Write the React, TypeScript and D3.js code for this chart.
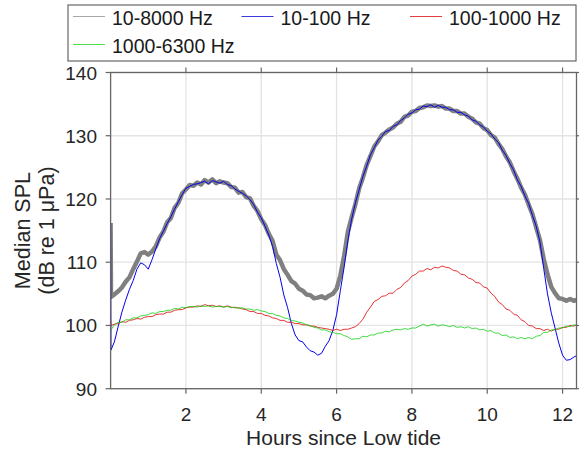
import React from "react";
import * as d3 from "d3";

const hours: number[] = [0, 0.01, ...d3.range(1, 125).map((i) => i / 10)];

const band10to8000 = [116.2, 104.5,
  104.9, 105.4, 106.0, 106.9, 107.6, 108.9, 110.1, 111.4, 111.6, 111.2,
  111.7, 112.5, 113.9, 114.8, 116.3, 117.0, 118.6, 119.4, 120.9, 121.5,
  122.2, 122.1, 122.6, 122.3, 123.0, 122.6, 123.1, 122.5, 122.8, 122.6,
  122.5, 121.9, 121.8, 121.0, 121.1, 120.3, 120.1, 118.9, 118.1, 116.8,
  115.9, 114.5, 113.4, 111.2, 110.3, 108.9, 108.0, 107.0, 106.6, 105.8,
  105.5, 104.9, 104.8, 104.3, 104.4, 104.6, 104.3, 104.7, 105.0, 105.8,
  107.9, 111.0, 114.8, 117.1, 119.2, 121.7, 123.4, 125.4, 126.8, 128.3,
  129.1, 130.1, 130.5, 131.0, 131.3, 131.9, 132.2, 133.0, 133.2, 133.8,
  133.9, 134.4, 134.5, 134.8, 134.7, 134.8, 134.6, 134.7, 134.3, 134.3,
  133.9, 133.9, 133.5, 133.5, 133.0, 132.7, 132.1, 131.9, 131.2, 130.9,
  130.1, 129.7, 128.7, 127.9, 126.7, 125.8, 124.4, 123.2, 121.8, 120.7,
  119.1, 117.6, 115.5, 113.5, 110.5, 108.1, 106.1, 105.1, 104.3, 104.2,
  103.9, 104.2, 103.9, 104.1];

const band10to100 = [116.2, 96.1,
  97.4, 99.8, 102.1, 104.0, 105.7, 107.1, 108.9, 109.9, 109.6, 108.9,
  110.4, 112.1, 113.7, 114.9, 116.1, 117.2, 118.4, 119.6, 120.7, 121.7,
  122.0, 122.3, 122.4, 122.6, 122.8, 122.4, 122.9, 122.7, 122.5, 122.8,
  122.3, 122.1, 121.6, 121.2, 120.9, 120.5, 119.9, 119.1, 117.9, 117.0,
  115.7, 114.3, 112.5, 109.8, 107.6, 104.8, 102.8, 100.3, 98.5, 97.6,
  97.4, 96.6, 96.0, 95.8, 95.3, 95.6, 96.7, 97.6, 99.2, 101.7,
  105.5, 109.2, 113.4, 116.8, 119.4, 121.5, 123.6, 125.2, 127.0, 128.1,
  129.3, 129.9, 130.7, 130.8, 131.5, 131.7, 132.4, 132.8, 133.4, 133.6,
  134.1, 134.2, 134.7, 134.6, 134.9, 134.5, 134.8, 134.5, 134.5, 134.1,
  134.1, 133.7, 133.7, 133.3, 133.1, 132.5, 132.3, 131.7, 131.4, 130.7,
  130.3, 129.5, 128.9, 127.7, 126.9, 125.6, 124.6, 123.0, 122.0, 120.5,
  119.3, 117.4, 115.7, 113.2, 109.0, 105.0, 102.0, 99.6, 97.2, 95.3,
  94.5, 94.6, 95.0, 95.3];

const band100to1000 = [101.0, 100.0,
  100.2, 100.3, 100.6, 100.5, 100.8, 100.9, 101.1, 101.0, 101.3, 101.4,
  101.4, 101.7, 101.8, 101.8, 102.1, 102.1, 102.4, 102.5, 102.5, 102.8,
  102.9, 102.9, 103.1, 103.0, 103.3, 103.1, 103.2, 103.0, 103.1, 102.9,
  103.1, 102.9, 102.8, 102.8, 102.6, 102.5, 102.2, 102.2, 101.9, 101.9,
  101.6, 101.5, 101.2, 101.1, 100.8, 100.8, 100.5, 100.5, 100.3, 100.3,
  100.1, 100.1, 99.9, 99.9, 99.7, 99.6, 99.5, 99.4, 99.2, 99.4,
  99.2, 99.4, 99.4, 99.6, 99.8, 100.3, 101.0, 102.1, 102.9, 103.8,
  104.1, 104.6, 104.7, 105.1, 105.1, 105.7, 106.0, 106.7, 107.1, 107.8,
  108.1, 108.6, 108.6, 109.0, 108.8, 109.2, 109.1, 109.4, 109.2, 109.1,
  108.7, 108.6, 108.1, 108.0, 107.5, 107.3, 106.8, 106.7, 106.1, 105.9,
  105.1, 104.6, 103.7, 103.3, 102.6, 102.4, 101.8, 101.6, 100.9, 100.6,
  100.0, 99.9, 99.5, 99.5, 99.2, 99.4, 99.1, 99.4, 99.4, 99.7,
  99.7, 100.0, 99.9, 100.1];

const band1000to6300 = [99.3, 99.3,
  100.1, 100.5, 100.5, 100.9, 100.9, 101.2, 101.2, 101.5, 101.6, 101.7,
  102.0, 101.9, 102.2, 102.2, 102.4, 102.4, 102.7, 102.6, 102.9, 102.8,
  103.0, 103.0, 102.9, 103.1, 103.0, 103.1, 102.9, 103.0, 103.0, 102.9,
  103.0, 102.8, 102.9, 102.7, 102.8, 102.6, 102.6, 102.4, 102.5, 102.3,
  102.2, 101.9, 101.9, 101.6, 101.5, 101.2, 101.1, 100.8, 100.7, 100.5,
  100.4, 100.1, 100.0, 99.7, 99.6, 99.3, 99.3, 99.0, 98.9, 98.7,
  98.7, 98.4, 98.2, 97.8, 97.9, 97.9, 98.3, 98.2, 98.5, 98.5,
  98.8, 98.8, 99.1, 99.0, 99.3, 99.4, 99.3, 99.5, 99.4, 99.6,
  99.6, 99.9, 100.2, 99.9, 100.1, 100.2, 99.9, 100.1, 100.0, 99.8,
  100.0, 99.7, 99.8, 99.6, 99.8, 99.5, 99.6, 99.3, 99.4, 99.1,
  99.2, 98.8, 98.8, 98.4, 98.5, 98.1, 98.2, 97.9, 98.1, 97.9,
  98.1, 97.9, 98.3, 98.4, 98.9, 98.9, 99.3, 99.3, 99.6, 99.6,
  99.9, 99.8, 100.1, 100.0];

const seriesNames = ["10-8000 Hz", "10-100 Hz", "100-1000 Hz", "1000-6300 Hz"];
const xTicks = [2, 4, 6, 8, 10, 12];
const yTicks = [90, 100, 110, 120, 130, 140];

const FONT = "'Liberation Sans', Arial, sans-serif";

export default function App() {
  const W = 579, H = 450;
  const L = 110.6, R = 576.5, T = 72.5, B = 388.7;
  const x = d3.scaleLinear().domain([0, 12.37]).range([L, R]);
  const y = d3.scaleLinear().domain([90, 140]).range([B, T]);

  const series = [
    { name: seriesNames[0], data: band10to8000, color: "#808080", width: 4.5, legendColor: "#a8a8a8", legendWidth: 1 },
    { name: seriesNames[1], data: band10to100, color: "#0000f0", width: 1, legendColor: "#3a3ae0", legendWidth: 1 },
    { name: seriesNames[2], data: band100to1000, color: "#e00000", width: 0.8, legendColor: "#e04040", legendWidth: 1 },
    { name: seriesNames[3], data: band1000to6300, color: "#10d010", width: 0.8, legendColor: "#50dd50", legendWidth: 1 },
  ];

  const line = (vals: number[]) =>
    d3.line<number>().x((_, i) => x(hours[i])).y((v) => y(v))(vals) || "";

  const legendPos = [
    { lx: 73, ty: 17.5 },
    { lx: 241.5, ty: 17.5 },
    { lx: 410, ty: 17.5 },
    { lx: 73, ty: 45.5 },
  ];

  return (
    <svg width={W} height={H} style={{ position: "absolute", left: 0, top: 0, background: "#fff" }} fontFamily={FONT}>
      <rect x={0} y={0} width={W} height={H} fill="#fff" />
      <defs>
        <clipPath id="plotclip">
          <rect x={L} y={T - 3} width={R - L} height={B - T + 6} />
        </clipPath>
      </defs>
      {/* grid */}
      {xTicks.map((t) => (
        <line key={"gx" + t} x1={x(t)} x2={x(t)} y1={T} y2={B} stroke="#e3e3e3" strokeWidth={1.3} />
      ))}
      {yTicks.map((t) => (
        <line key={"gy" + t} x1={L} x2={R} y1={y(t)} y2={y(t)} stroke="#e3e3e3" strokeWidth={1.3} />
      ))}
      {/* series */}
      <g clipPath="url(#plotclip)">
        {series.map((s) => (
          <path key={s.name} d={line(s.data)} fill="none" stroke={s.color} strokeWidth={s.width} strokeLinejoin="round" />
        ))}
      </g>
      {/* axes box */}
      <rect x={L} y={T} width={R - L} height={B - T} fill="none" stroke="#666" strokeWidth={1.3} />
      {xTicks.map((t) => (
        <g key={"tx" + t}>
          <line x1={x(t)} x2={x(t)} y1={B} y2={B + 5} stroke="#666" strokeWidth={1.2} />
          <line x1={x(t)} x2={x(t)} y1={T} y2={T - 5} stroke="#666" strokeWidth={1.2} />
          <text x={x(t)} y={421} textAnchor="middle" fontSize={19} fill="#262626">{t}</text>
        </g>
      ))}
      {yTicks.map((t) => (
        <g key={"ty" + t}>
          <line x1={L} x2={L - 5} y1={y(t)} y2={y(t)} stroke="#666" strokeWidth={1.2} />
          <line x1={R} x2={R + 5} y1={y(t)} y2={y(t)} stroke="#666" strokeWidth={1.2} />
          <text x={97} y={y(t) + 7} textAnchor="end" fontSize={19} fill="#262626">{t}</text>
        </g>
      ))}
      {/* axis labels */}
      <text x={(L + R) / 2} y={445} textAnchor="middle" fontSize={21} fill="#262626">Hours since Low tide</text>
      <text transform={`translate(30,${(T + B) / 2}) rotate(-90)`} textAnchor="middle" fontSize={21.5} fill="#262626">Median SPL</text>
      <text transform={`translate(54,${(T + B) / 2}) rotate(-90)`} textAnchor="middle" fontSize={21.5} fill="#262626">(dB re 1 μPa)</text>
      {/* legend */}
      <rect x={68} y={5} width={508} height={56} fill="#fff" stroke="#666" strokeWidth={1.2} />
      {series.map((s, i) => (
        <g key={"lg" + i}>
          <line x1={legendPos[i].lx} x2={legendPos[i].lx + 32} y1={legendPos[i].ty - 1} y2={legendPos[i].ty - 1} stroke={s.legendColor} strokeWidth={s.legendWidth} />
          <text x={legendPos[i].lx + 39} y={legendPos[i].ty + 7} fontSize={19.5} fill="#1a1a1a">{s.name}</text>
        </g>
      ))}
    </svg>
  );
}
